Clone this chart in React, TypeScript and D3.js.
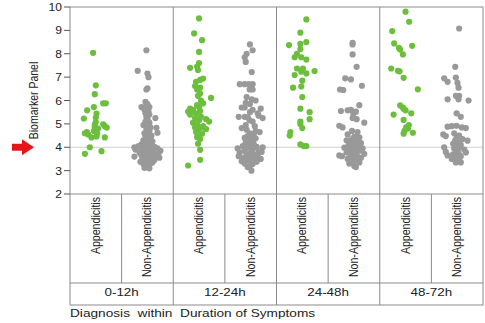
import React from 'react';
import * as d3 from 'd3';

const groups = ['0-12h', '12-24h', '24-48h', '48-72h'];
const categories = ['Appendicitis', 'Non-Appendicitis'];
const yTicks = [2, 3, 4, 5, 6, 7, 8, 9, 10];
const cutoff = 4;

// [value, jitter] jitter in -1..1 across the column
const app0 = [
  [8.04, -0.18], [6.65, 0], [6.27, -0.07], [5.88, 0.49], [5.88, 0.67], [5.72, -0.13], [5.58, -0.58],
  [5.44, 0.05], [5.27, 0], [5.23, -0.8], [5.08, 0], [4.98, 0.49], [4.97, -0.07], [4.9, 0.6],
  [4.87, -0.07], [4.84, 0.73], [4.8, 0.15], [4.7, -0.13], [4.65, -0.6], [4.6, -0.73], [4.6, 0.09],
  [4.55, -0.51], [4.46, 0.05], [4.42, -0.29], [4.42, 0.6], [4.0, -0.4], [3.83, 0.38], [3.72, -0.73],
];
const non0 = [
  [8.15, -0.07], [7.27, -0.65], [7.15, 0], [7.0, 0.07], [6.52, 0], [6.47, -0.07], [5.94, -0.13],
  [5.85, 0], [5.72, -0.4], [5.72, -0.13], [5.72, 0.13], [5.6, -0.2], [5.55, 0.07], [5.45, -0.13],
  [5.4, 0.13], [5.3, -0.07], [5.25, 0.53], [5.2, 0], [5.1, -0.13], [5.05, 0.13], [4.95, -0.27],
  [4.9, 0], [4.85, 0.2], [4.83, 0.6], [4.75, -0.07], [4.7, 0.13], [4.62, 0.67], [4.6, -0.2],
  [4.55, 0.07], [4.5, 0.27], [4.45, -0.13], [4.4, 0], [4.38, 0.2], [4.3, -0.27], [4.28, 0.07],
  [4.25, 0.33], [4.2, -0.13], [4.18, 0.13], [4.12, -0.4], [4.1, 0], [4.08, 0.27], [4.05, -0.6],
  [4.02, 0.47], [4.0, -0.87], [3.98, -0.2], [3.96, 0.07], [3.95, 0.67], [3.9, -0.8], [3.9, -0.33],
  [3.88, 0.2], [3.85, 0.87], [3.83, -0.07], [3.8, 0.4], [3.78, -0.53], [3.75, 0.13], [3.72, 0.73],
  [3.7, -0.2], [3.68, 0.33], [3.65, -0.4], [3.62, 0.07], [3.6, -0.87], [3.6, 0.53], [3.58, -0.13],
  [3.55, 0.8], [3.52, 0.27], [3.5, -0.33], [3.48, 0], [3.45, 0.47], [3.42, -0.2], [3.4, 0.13],
  [3.38, -0.47], [3.35, 0.33], [3.32, -0.07], [3.3, 0.2], [3.28, -0.27], [3.25, 0.07], [3.2, -0.13],
  [3.15, 0], [3.12, -0.2], [3.1, 0.13],
];
const app1 = [
  [9.51, 0], [8.87, -0.33], [8.58, 0.2], [8.08, 0], [7.6, 0], [7.45, -0.13], [7.4, -0.6], [7.3, -0.07],
  [6.94, 0.27], [6.88, 0.07], [6.8, -0.2], [6.62, -0.27], [6.55, 0.07], [6.47, -0.13], [6.3, 0.07],
  [6.2, -0.07], [6.11, 0.8], [6.0, 0.13], [5.88, 0.27], [5.8, -0.13], [5.72, 0], [5.65, -0.6],
  [5.6, -0.4], [5.55, 0.07], [5.53, -0.73], [5.45, -0.2], [5.4, -0.6], [5.3, 0.13], [5.25, -0.27],
  [5.2, 0.47], [5.15, 0], [5.1, 0.67], [5.05, -0.4], [4.95, -0.13], [4.9, 0.27], [4.85, -0.27],
  [4.85, 0.2], [4.78, 0.47], [4.7, -0.07], [4.65, -0.2], [4.58, 0.2], [4.5, 0], [4.43, -0.13],
  [4.35, 0.07], [4.15, -0.07], [3.89, 0.07], [3.46, 0.07], [3.22, -0.73],
];
const non1 = [
  [8.4, -0.05], [8.15, 0.13], [8.0, -0.27], [7.85, -0.4], [7.65, -0.33], [7.22, 0.07], [6.7, -0.73],
  [6.7, -0.4], [6.7, -0.13], [6.7, 0.13], [6.47, -0.07], [6.47, 0.13], [6.15, -0.27], [6.05, 0.07],
  [6.0, 0.33], [5.9, -0.33], [5.85, -0.05], [5.7, -0.6], [5.7, -0.4], [5.65, 0.67], [5.6, 0.13],
  [5.5, -0.05], [5.45, 0.47], [5.35, 0.53], [5.3, -0.8], [5.3, -0.4], [5.28, -0.2], [5.25, 0.8],
  [5.15, -0.07], [5.1, 0.13], [4.95, -0.33], [4.9, 0.27], [4.82, -0.6], [4.75, -0.27], [4.7, 0.33],
  [4.65, 0.6], [4.6, -0.05], [4.55, 0.2], [4.48, -0.2], [4.45, 0.07], [4.4, -0.4], [4.38, 0.33],
  [4.3, -0.13], [4.25, 0.13], [4.2, -0.33], [4.15, 0.2], [4.1, 0], [4.05, -0.53], [4.02, 0.4],
  [4.0, 0.8], [3.98, -0.2], [3.95, -0.87], [3.9, 0.13], [3.85, -0.4], [3.82, 0.53], [3.8, 0.73],
  [3.78, -0.73], [3.75, 0], [3.7, -0.27], [3.68, 0.27], [3.62, -0.8], [3.6, 0.47], [3.58, -0.07],
  [3.55, -0.47], [3.52, 0.2], [3.5, 0.67], [3.45, -0.2], [3.42, 0.07], [3.4, -0.6], [3.38, 0.4],
  [3.3, -0.4], [3.28, 0.13], [3.2, -0.05], [3.15, -0.2], [3.0, 0.05],
];
const app2 = [
  [9.47, 0.27], [8.9, -0.13], [8.5, 0.27], [8.42, -0.13], [8.37, -0.89], [8.2, -0.13], [8.0, -0.36],
  [7.85, -0.51], [7.85, -0.07], [7.75, 0.27], [7.37, -0.36], [7.37, 0.04], [7.26, 0.82], [7.23, -0.07],
  [7.16, 0.27], [7.09, -0.51], [6.85, 0], [6.6, -0.07], [6.55, -0.62], [6.15, 0], [5.65, -0.13],
  [5.5, 0.49], [5.2, 0.49], [5.1, -0.13], [5.0, -0.13], [4.82, 0], [4.65, -0.8], [4.5, -0.84],
  [4.12, -0.13], [4.05, 0.09], [4.05, 0.27],
];
const non2 = [
  [8.47, -0.09], [8.4, -0.09], [7.97, -0.09], [7.44, 0.18], [6.95, -0.58], [6.9, -0.2], [6.63, 0.53],
  [6.47, -0.93], [6.45, -0.71], [5.8, 0.36], [5.55, -0.87], [5.58, -0.42], [5.6, -0.2], [5.52, 0.13],
  [5.42, -0.04], [5.25, -0.09], [5.2, 0.18], [5.05, 0.69], [4.92, -0.98], [4.85, -0.76], [4.7, -0.13],
  [4.65, 0.24], [4.55, -0.42], [4.45, 0.02], [4.42, 0.36], [4.35, -0.13], [4.3, -0.49], [4.28, 0.18],
  [4.22, -0.2], [4.18, 0.47], [4.12, 0.02], [4.08, -0.36], [4.05, 0.24], [4.0, -0.13], [3.98, -0.64],
  [3.95, 0.58], [3.92, 0.09], [3.88, -0.31], [3.85, 0.36], [3.82, -0.09], [3.78, -0.49], [3.75, 0.13],
  [3.72, 0.69], [3.7, -0.2], [3.65, -0.98], [3.62, -0.8], [3.6, 0.24], [3.58, -0.04], [3.55, 0.47],
  [3.5, -0.42], [3.45, 0.09], [3.42, -0.2], [3.35, 0.36], [3.3, -0.31], [3.2, 0.02], [3.15, 0.13],
];
const app3 = [
  [9.8, 0], [9.37, 0.24], [8.97, -0.89], [8.44, -0.76], [8.34, 0.44], [8.25, -0.44], [8.18, -0.36],
  [7.97, -0.18], [7.37, -0.96], [7.27, -0.51], [7.25, -0.4], [6.97, -0.13], [6.48, 0.82], [5.79, -0.36],
  [5.7, -0.18], [5.65, -0.13], [5.58, 0], [5.45, 0.38], [5.4, -0.8], [5.17, -0.13], [4.95, 0.22],
  [4.85, 0.04], [4.8, 0.16], [4.7, -0.07], [4.62, 0.49], [4.58, -0.13],
];
const non3 = [
  [9.08, 0.13], [7.44, -0.13], [6.98, -0.09], [6.95, -0.87], [6.8, -0.64], [6.75, 0.02], [6.55, 0.09],
  [6.2, -0.09], [6.2, 0.13], [6.05, 0.09], [6.05, -0.64], [6.0, 0.76], [5.45, -0.04], [5.3, 0.24],
  [4.88, -0.64], [4.9, -0.36], [4.92, -0.04], [4.85, 0.31], [4.82, 0.58], [4.6, -0.2], [4.55, -0.93],
  [4.48, -0.76], [4.5, 0.13], [4.42, -0.04], [4.35, 0.36], [4.3, -0.13], [4.28, 0.69], [4.22, 0.09],
  [4.15, -0.27], [4.1, 0.24], [4.05, -0.04], [4.0, -0.87], [3.98, 0.13], [3.95, -0.2], [3.9, 0.47],
  [3.85, -0.04], [3.8, -0.76], [3.78, 0.58], [3.75, 0.09], [3.7, -0.27], [3.65, -0.64], [3.62, 0.24],
  [3.58, -0.09], [3.5, -0.36], [3.45, 0.13], [3.35, -0.09], [3.35, 0.24],
];

const series = [
  [app0, non0],
  [app1, non1],
  [app2, non2],
  [app3, non3],
];

const colors = ['#6cbf3c', '#999999'];
const lineColor = '#8a8a8a';
const font = 'Liberation Sans, Arial, Helvetica, sans-serif';

const W = 485;
const H = 323;
const left = 70;
const right = 483;
const top = 7;
const plotBottom = 194;
const catBottom = 283;
const grpBottom = 305;
// the source image is a little stretched sideways
const stretch = 1.22;

export default function App() {
  const x = d3.scaleBand().domain(groups).range([left, right]);
  const sub = d3.scaleBand().domain(categories).range([0, x.bandwidth()]);
  const y = d3.scaleLinear().domain([2, 10]).range([plotBottom, top]);
  const jitter = d3.scaleLinear().domain([-1, 1]).range([-sub.bandwidth() * 0.29, sub.bandwidth() * 0.29]);
  const y4 = y(cutoff);

  return (
    <svg width={W} height={H} style={{ position: 'absolute', left: 0, top: 0, background: '#fff' }} fontFamily={font}>
      {/* cutoff line */}
      <line x1={left} x2={right} y1={y4} y2={y4} stroke="#d0d0d0" strokeWidth={1} />

      {/* dots */}
      {series.map((pair, gi) =>
        pair.map((pts, ci) =>
          pts.map((d, i) => (
            <circle
              key={`${gi}-${ci}-${i}`}
              cx={x(groups[gi])! + sub(categories[ci])! + sub.bandwidth() / 2 + jitter(d[1])}
              cy={y(d[0])}
              r={3.1}
              fill={colors[ci]}
            />
          ))
        )
      )}

      {/* frame and table */}
      <rect x={left} y={top} width={right - left} height={grpBottom - top} fill="none" stroke={lineColor} strokeWidth={1} />
      <line x1={left} x2={right} y1={plotBottom} y2={plotBottom} stroke={lineColor} />
      <line x1={left} x2={right} y1={catBottom} y2={catBottom} stroke={lineColor} />
      {groups.slice(1).map(g => (
        <line key={g} x1={x(g)} x2={x(g)} y1={top} y2={grpBottom} stroke={lineColor} />
      ))}
      {groups.map(g => (
        <line
          key={`s-${g}`}
          x1={x(g)! + sub(categories[1])!}
          x2={x(g)! + sub(categories[1])!}
          y1={plotBottom}
          y2={catBottom}
          stroke={lineColor}
        />
      ))}

      {/* category labels */}
      {groups.map(g =>
        categories.map(c => {
          const cx = x(g)! + sub(c)! + sub.bandwidth() / 2 + 4;
          return (
            <text
              key={`${g}-${c}`}
              transform={`translate(${cx},${plotBottom + 3}) scale(${stretch},1) rotate(-90)`}
              textAnchor="end"
              fontSize={10.6}
              fill="#222"
            >
              {c}
            </text>
          );
        })
      )}

      {/* group labels */}
      {groups.map(g => (
        <text
          key={`g-${g}`}
          transform={`translate(${x(g)! + x.bandwidth() / 2},${catBottom + 12.5}) scale(${stretch},1)`}
          textAnchor="middle"
          fontSize={11}
          fill="#222"
        >
          {g}
        </text>
      ))}

      {/* y axis */}
      {yTicks.map(t => (
        <g key={t}>
          <line x1={left - 6} x2={left} y1={y(t)} y2={y(t)} stroke="#555" />
          <text
            transform={`translate(${left - 8},${y(t) + 4}) scale(1.1,1)`}
            textAnchor="end"
            fontSize={11}
            fill="#222"
          >
            {t}
          </text>
        </g>
      ))}
      <text
        transform={`translate(38,${(top + plotBottom) / 2}) scale(${stretch},1) rotate(-90)`}
        textAnchor="middle"
        fontSize={10.5}
        fill="#222"
      >
        Biomarker Panel
      </text>

      {/* red arrow pointing at cutoff */}
      <path
        d={`M12,${y4 - 3.5} L22,${y4 - 3.5} L22,${y4 - 8} L34,${y4} L22,${y4 + 8} L22,${y4 + 3.5} L12,${y4 + 3.5} Z`}
        fill="#e8141c"
      />

      {/* x title */}
      <text
        transform={`translate(${left},316.5) scale(${stretch},1)`}
        fontSize={11.2}
        fill="#222"
        style={{ whiteSpace: 'pre' }}
      >
        {'Diagnosis  within  Duration of Symptoms'}
      </text>
    </svg>
  );
}
